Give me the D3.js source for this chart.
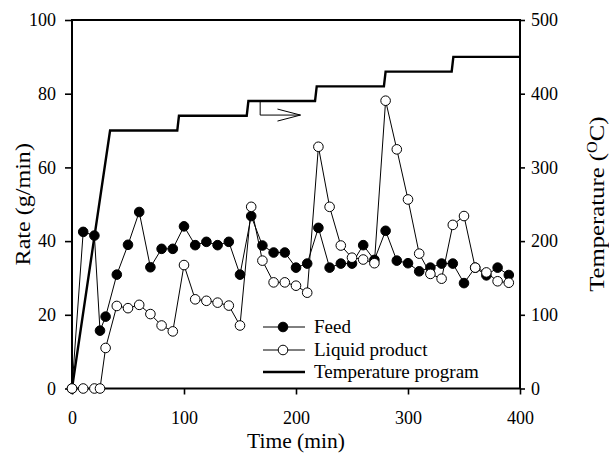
<!DOCTYPE html>
<html>
<head>
<meta charset="utf-8">
<script src="https://cdn.jsdelivr.net/npm/d3@7"></script>
<style>
  html, body { margin: 0; padding: 0; background: #fff; }
</style>
</head>
<body>
<svg id="chart" width="609" height="459"></svg>
<script>
// Feed rate and liquid product rate (g/min) against run time (min)
const feedTime  = [0, 10, 20, 25, 30, 40, 50, 60, 70, 80, 90, 100, 110, 120, 130, 140, 150, 160, 170, 180, 190, 200,
                   210, 220, 230, 240, 250, 260, 270, 280, 290, 300, 310, 320, 330, 340, 350, 360, 370, 380, 390];
const feedRate  = [0, 42.5, 41.5, 15.7, 19.5, 30.9, 39.0, 47.9, 32.9, 37.9, 37.9, 44.0, 38.9, 39.8, 38.9, 39.8, 30.9, 46.8, 38.8, 36.9, 36.9, 32.8,
                   33.9, 43.6, 32.8, 33.9, 33.9, 38.9, 34.9, 42.8, 34.7, 34.0, 31.8, 32.8, 33.9, 33.9, 28.6, 32.8, 30.7, 32.8, 30.8];

const liquidTime = [0, 10, 20, 25, 30, 40, 50, 60, 70, 80, 90, 100, 110, 120, 130, 140, 150, 160, 170, 180, 190, 200,
                    210, 220, 230, 240, 250, 260, 270, 280, 290, 300, 310, 320, 330, 340, 350, 360, 370, 380, 390];
const liquidRate = [0, 0, 0, 0, 11.0, 22.4, 21.8, 22.7, 20.2, 17.1, 15.5, 33.5, 24.2, 23.8, 23.3, 22.5, 17.1, 49.3, 34.7, 28.8, 28.8, 27.9,
                    26.0, 65.6, 49.3, 38.8, 35.5, 35.0, 34.0, 78.1, 64.9, 51.3, 36.6, 31.1, 29.8, 44.4, 46.8, 32.8, 31.5, 29.1, 28.7];

// Stepped temperature program (°C)
const tempTime  = [0, 34, 94, 95.5, 156, 157.5, 217, 218.5, 278.5, 280, 339, 340.5, 400];
const tempValue = [0, 350, 350, 370, 370, 390, 390, 410, 410, 430, 430, 450, 450];

const timeTicks = [0, 100, 200, 300, 400];
const rateTicks = [0, 20, 40, 60, 80, 100];
const tempTicks = [0, 100, 200, 300, 400, 500];

const seriesNames = ["Feed", "Liquid product", "Temperature program"];

const FONT = "'Liberation Serif', 'Times New Roman', Times, 'DejaVu Serif', serif";

const svg = d3.select("#chart");
const plotLeft = 72, plotRight = 520, plotTop = 20, plotBottom = 388.5;

const x  = d3.scaleLinear().domain([0, 400]).range([plotLeft, plotRight]);
const yL = d3.scaleLinear().domain([0, 100]).range([plotBottom, plotTop]);
const yR = d3.scaleLinear().domain([0, 500]).range([plotBottom, plotTop]);

// Axes
const axL = svg.append("g").attr("transform", `translate(${plotLeft},0)`)
  .call(d3.axisLeft(yL).tickValues(rateTicks).tickFormat(d3.format("d")).tickSize(7).tickSizeOuter(0).tickPadding(9));
const axR = svg.append("g").attr("transform", `translate(${plotRight},0)`)
  .call(d3.axisRight(yR).tickValues(tempTicks).tickFormat(d3.format("d")).tickSize(5).tickSizeOuter(0).tickPadding(6));
const axB = svg.append("g").attr("transform", `translate(0,${plotBottom})`)
  .call(d3.axisBottom(x).tickValues(timeTicks).tickFormat(d3.format("d")).tickSize(6).tickSizeOuter(0).tickPadding(17));
[axL, axR, axB].forEach(g => {
  g.attr("font-family", null).attr("font-size", null);
  g.select(".domain").remove();
  g.selectAll(".tick line").attr("stroke", "#000").attr("stroke-width", 1.6);
  g.selectAll(".tick text").attr("fill", "#000")
    .style("font-family", FONT).style("font-size", "18px");
});

// Frame
svg.append("rect")
  .attr("x", plotLeft).attr("y", plotTop)
  .attr("width", plotRight - plotLeft).attr("height", plotBottom - plotTop)
  .attr("fill", "none").attr("stroke", "#000").attr("stroke-width", 2);

// Axis titles (vertical titles slightly elongated along their length)
svg.append("text")
  .attr("x", (plotLeft + plotRight) / 2).attr("y", 448)
  .attr("text-anchor", "middle").style("font-family", FONT).style("font-size", "21.5px")
  .text("Time (min)");
svg.append("text")
  .attr("transform", `translate(30,${(plotTop + plotBottom) / 2}) rotate(-90) scale(1.12,1)`)
  .attr("text-anchor", "middle").style("font-family", FONT).style("font-size", "21.5px")
  .text("Rate (g/min)");
const tt = svg.append("text")
  .attr("transform", `translate(604,${(plotTop + plotBottom) / 2}) rotate(-90) scale(1.15,1)`)
  .attr("text-anchor", "middle").style("font-family", FONT).style("font-size", "21.5px");
tt.append("tspan").text("Temperature (");
tt.append("tspan").attr("dy", -7).style("font-size", "14px").text("O");
tt.append("tspan").attr("dy", 7).text("C)");

// Temperature program
svg.append("path")
  .datum(tempTime.map((t, i) => [t, tempValue[i]]))
  .attr("fill", "none").attr("stroke", "#000").attr("stroke-width", 2.4)
  .attr("d", d3.line().x(d => x(d[0])).y(d => yR(d[1])));

// Arrow pointing toward the right-hand axis
const arrowT = 168, arrowTipT = 204, arrowTemp = 371;
svg.append("path")
  .attr("fill", "none").attr("stroke", "#000").attr("stroke-width", 1)
  .attr("d", `M${x(arrowT)},${yR(390)}V${yR(arrowTemp)}H${x(arrowTipT)}` +
             `M${x(arrowTipT) - 23},${yR(arrowTemp) - 6}L${x(arrowTipT)},${yR(arrowTemp)}L${x(arrowTipT) - 23},${yR(arrowTemp) + 6}`);

const line = d3.line().x(d => x(d[0])).y(d => yL(d[1]));
const feed = feedTime.map((t, i) => [t, feedRate[i]]);
const liquid = liquidTime.map((t, i) => [t, liquidRate[i]]);

// Feed series
svg.append("path").datum(feed)
  .attr("fill", "none").attr("stroke", "#000").attr("stroke-width", 1).attr("d", line);
svg.append("g").selectAll("circle").data(feed).join("circle")
  .attr("cx", d => x(d[0])).attr("cy", d => yL(d[1])).attr("r", 4.8)
  .attr("fill", "#000").attr("stroke", "#000").attr("stroke-width", 1);

// Liquid product series
svg.append("path").datum(liquid)
  .attr("fill", "none").attr("stroke", "#000").attr("stroke-width", 1).attr("d", line);
svg.append("g").selectAll("circle").data(liquid).join("circle")
  .attr("cx", d => x(d[0])).attr("cy", d => yL(d[1])).attr("r", 4.8)
  .attr("fill", "#fff").attr("stroke", "#000").attr("stroke-width", 1);

// Legend
const legX = 263, legY = [327, 350, 372];
const leg = svg.append("g");
seriesNames.forEach((name, i) => {
  const g = leg.append("g").attr("transform", `translate(${legX},${legY[i]})`);
  g.append("line").attr("x1", 0).attr("x2", 42).attr("y1", 0).attr("y2", 0)
    .attr("stroke", "#000").attr("stroke-width", i === 2 ? 2.4 : 1);
  if (i < 2) {
    g.append("circle").attr("cx", 20).attr("cy", 0).attr("r", 4.8)
      .attr("fill", i === 0 ? "#000" : "#fff").attr("stroke", "#000").attr("stroke-width", 1);
  }
  g.append("text").attr("x", 51).attr("y", 0).attr("dy", "0.33em")
    .style("font-family", FONT).style("font-size", "19px").text(name);
});
</script>
</body>
</html>
